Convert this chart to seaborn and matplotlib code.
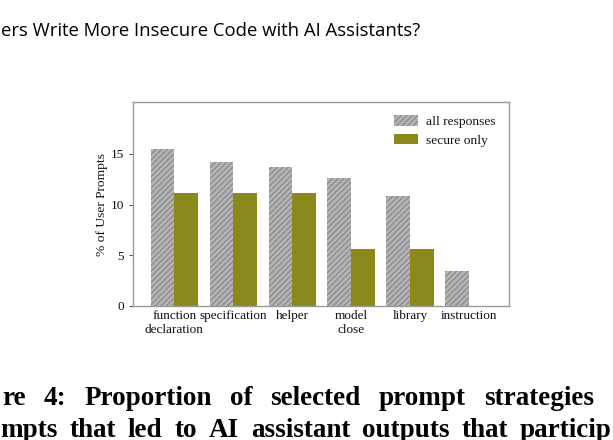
import pandas as pd
import matplotlib
matplotlib.use("Agg")
import matplotlib.pyplot as plt
import seaborn as sns

# data
estrategias = ["function\ndeclaration", "specification", "helper",
               "model\nclose", "library", "instruction"]
todas = [15.5, 14.2, 13.7, 12.6, 10.8, 3.4]
seguras = [11.1, 11.1, 11.1, 5.6, 5.6, 0.0]
series = ["all responses", "secure only"]

# caption text (justified in the page, so words are placed one by one)
cabecalho = "ers Write More Insecure Code with AI Assistants?"
legenda_1 = ["re", "4:", "Proportion", "of", "selected", "prompt", "strategies"]
legenda_2 = ["mpts", "that", "led", "to", "AI", "assistant", "outputs",
             "that", "particip"]

df = pd.DataFrame({
    "estrategia": estrategias * 2,
    "pct": todas + seguras,
    "serie": [series[0]] * len(todas) + [series[1]] * len(seguras),
})

sns.set_style("ticks")
plt.rcParams["font.family"] = ["Liberation Serif", "DejaVu Serif"]
plt.rcParams["hatch.linewidth"] = 0.8

cinza = "#b4b4b4"
oliva = "#8a8a1c"

fig = plt.figure(figsize=(6.13, 4.40), dpi=100)
ax = fig.add_axes([133 / 613, 1 - 306 / 440, 376 / 613, 204 / 440])

sns.barplot(data=df, x="estrategia", y="pct", hue="serie",
            palette=[cinza, oliva], width=0.8, saturation=1,
            linewidth=0, ax=ax)

for barra in ax.containers[0]:
    barra.set_hatch("//////")
    barra.set_edgecolor("#858585")
    barra.set_linewidth(0)

ax.set_xlim(-0.7, 5.68)
ax.set_ylim(0, 20.1)
ax.set_yticks([0, 5, 10, 15])
ax.set_xlabel("")
ax.set_ylabel("% of User Prompts", fontsize=9.7, labelpad=2, color="#111111")
ax.tick_params(axis="both", labelsize=9.5, color="#555555", length=3,
               labelcolor="#111111")
ax.tick_params(axis="x", length=0, pad=3)
for lado in ax.spines.values():
    lado.set_color("#9a9a9a")
    lado.set_linewidth(1.0)

leg = ax.legend(loc="upper right", frameon=False, fontsize=9.7,
                handlelength=1.8, handleheight=0.8, handletextpad=0.6,
                borderaxespad=0.6, labelspacing=0.4, labelcolor="#111111")
for h in leg.legend_handles:
    h.set_linewidth(0)
leg.legend_handles[0].set_hatch("//////")
leg.legend_handles[0].set_edgecolor("#858585")

# page header
fig.text(1 / 613, 1 - 36 / 440, cabecalho, fontsize=13.3, color="black",
         family=["Open Sans", "DejaVu Sans"], ha="left", va="baseline")


# caption lines, justified between two pixel positions
def linha_justificada(palavras, x0, x1, y):
    render = fig.canvas.get_renderer()
    textos = [fig.text(0, 1 - y / 440, p, fontsize=19.5, fontweight="bold",
                       color="black", ha="left", va="baseline")
              for p in palavras]
    larguras = [t.get_window_extent(render).width for t in textos]
    folga = (x1 - x0 - sum(larguras)) / (len(palavras) - 1)
    x = x0
    for t, w in zip(textos, larguras):
        t.set_x(x / 613)
        x += w + folga


linha_justificada(legenda_1, 2, 594, 405)
linha_justificada(legenda_2, 0, 612, 437)

fig.savefig("out.png", dpi=100)
